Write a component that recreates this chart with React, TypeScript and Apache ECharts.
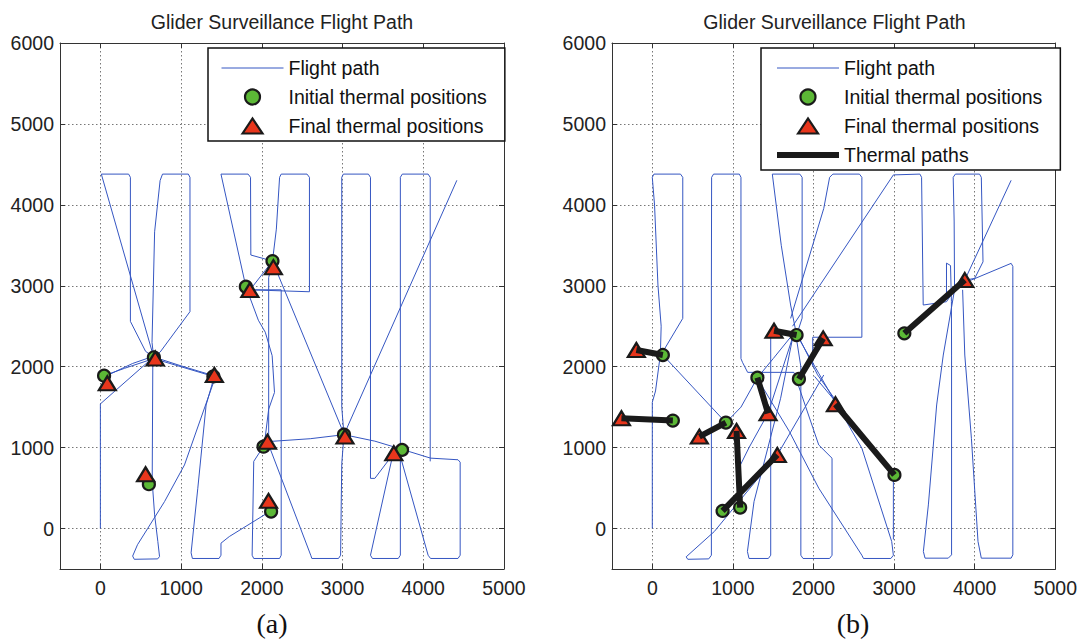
import React, { useEffect, useRef } from 'react';
import * as echarts from 'echarts';

type P = [number, number] | null;

// ---------- data ----------
const axisXTicks = [0, 1000, 2000, 3000, 4000, 5000];
const axisYTicks = [0, 1000, 2000, 3000, 4000, 5000, 6000];

const initialA: [number, number][] = [
  [46, 1889], [663, 2116], [1400, 1880], [601, 548], [1802, 2988],
  [2132, 3305], [2021, 1012], [2115, 210], [3018, 1160], [3737, 972],
];
const finalA: [number, number][] = [
  [86, 1795], [680, 2100], [1412, 1898], [560, 671], [1852, 2947],
  [2143, 3230], [2070, 1074], [2083, 342], [3030, 1136], [3635, 931],
];

const initialB: [number, number][] = [
  [131, 2144], [1790, 2391], [3127, 2412], [255, 1334], [913, 1309],
  [1304, 1864], [1819, 1848], [872, 218], [1090, 259], [3004, 663],
];
const finalB: [number, number][] = [
  [-198, 2206], [1510, 2445], [3877, 3070], [-383, 1363], [584, 1136],
  [1436, 1424], [2120, 2350], [1551, 910], [1045, 1206], [2272, 1536],
];

const flightPathA: P[] = [
  [0, 0], [0, 1540], [170, 1690], [660, 2120], [1000, 2010], [1400, 1890],
  null,
  [1400, 1880], [660, 2100], [300, 1980], [46, 1890],
  null,
  [60, 1880], [400, 2040], [660, 2130],
  null,
  [660, 2120], [12, 4380], [350, 4380], [372, 4340], [372, 2560], [560, 2190], [660, 2120],
  null,
  [660, 2120], [640, 2300], [672, 3667], [740, 4300], [770, 4380], [1090, 4380], [1110, 4340], [1110, 2680], [740, 2180], [660, 2120],
  null,
  [650, 2110], [642, 580], [672, 169], [712, -160], [733, -346], [710, -375], [420, -380], [400, -340], [460, -200], [589, 5], [795, 333], [1042, 786], [1412, 1836],
  null,
  [1412, 1880], [1310, 1527], [1207, 498], [1124, -300], [1140, -370], [1470, -370], [1494, -330], [1494, -181], [1597, -99], [2050, 180], [2115, 210],
  null,
  [1494, 4380], [1802, 2990], [1957, 2574], [2043, 2426], [2128, 2136], [2157, 1682], [2085, 1475], [2030, 1030], [1900, 830], [1880, -330], [1900, -370], [2220, -370], [2240, -330], [2240, 2950], [1850, 2950],
  null,
  [1850, 2950], [2590, 2926], [2590, 4340], [2560, 4380], [2240, 4380], [2220, 4340], [2180, 3700], [2132, 3305], [2085, 3100], [2085, 1100], [2070, 1074],
  null,
  [1852, 2947], [2132, 3305],
  null,
  [1494, 4380], [1830, 4380], [1860, 4340], [1864, 3380], [2132, 3305], [3030, 1140],
  null,
  [2070, 1074], [2600, 1110], [3018, 1160], [3400, 1080], [3700, 990], [4090, 870], [4430, 850], [4457, 820], [4457, -330], [4430, -370], [4090, -370], [4060, -330], [3700, 950],
  null,
  [3620, 900], [3346, -330], [3370, -370], [3690, -370], [3716, -330], [3716, 4340], [3740, 4380], [4060, 4380], [4086, 4340], [4086, 830],
  null,
  [3018, 1160], [2990, 1500], [2990, 4340], [3010, 4380], [3320, 4380], [3346, 4340], [3346, 620], [3400, 620], [3635, 930],
  null,
  [3018, 1160], [2990, 800], [2976, -330], [2950, -370], [2620, -370], [2606, -330], [2070, 1074],
  null,
  [3018, 1160], [4416, 4303],
];

const flightPathB: P[] = [
  [0, 0], [0, 1560], [40, 1700], [100, 2150], [110, 2500], [70, 3009], [28, 3996], [0, 4340], [20, 4380], [350, 4380], [378, 4340], [378, 2597], [131, 2185],
  null,
  [131, 2144], [500, 1750], [913, 1309],
  null,
  [1757, 1930], [1183, 1930], [1119, 2054], [1100, 2100], [1100, 4340], [1080, 4380], [760, 4380], [736, 4340], [733, 3000], [733, -330], [700, -375], [440, -380], [420, -350], [769, -37], [1551, 909], [2127, 1897],
  null,
  [1790, 2391], [1716, 2762], [1600, 3500], [1489, 4380], [1830, 4380], [1859, 4340], [1859, 2600], [1800, 2420],
  null,
  [1716, 2597], [2127, 3955], [2200, 4340], [2240, 4380], [2570, 4380], [2600, 4340], [2600, 2364], [1990, 2364], [1990, 2012],
  null,
  [1740, 2500], [2991, 4370], [3320, 4380], [3341, 4340], [3361, 2762], [3650, 2803], [3750, 2950],
  null,
  [3750, 2950], [3745, 3800], [3733, 4340], [3760, 4380], [4060, 4380], [4082, 4340], [4103, 3296], [4000, 3091], [3877, 3070],
  null,
  [3877, 3070], [3958, 3071], [4452, 3277], [4473, 3240], [4473, -325], [4452, -366], [4082, -366], [4041, -160], [3959, 1115], [3877, 2144], [3850, 2950],
  null,
  [3750, 2950], [3610, 2144], [3528, 1527], [3425, 292], [3363, -284], [3384, -366], [3672, -366], [3713, -325], [3713, 2144], [3711, 2803], [3700, 3250], [3650, 3280], [3650, 2900],
  null,
  [3877, 3070], [4452, 4303],
  null,
  [3127, 2412], [3500, 2750], [3877, 3070],
  null,
  [1300, 1860], [1700, 1200], [2065, 499], [2600, -330], [2620, -370], [2960, -370], [2991, -330], [2970, -160], [2600, 992], [2065, 1918], [1800, 2380],
  null,
  [2013, 1880], [2500, 1300], [2991, 690], [2991, -136],
  null,
  [1757, 1930], [2065, 1033], [2230, 869], [2230, -330], [2200, -370], [1870, -370], [1843, -330], [1843, 2000], [1780, 2400],
  null,
  [1750, 2400], [1592, 1610], [1262, 333], [1180, -284], [1200, -370], [1440, -370], [1469, -330], [1469, 2450],
  null,
  [913, 1309], [1100, 1500], [1304, 1864], [1500, 2100], [1760, 2420],
  null,
  [1760, 2420], [1436, 1424], [1200, 1000], [1050, 700],
  null,
  [1800, 2400], [2050, 1900], [2300, 1550], [2600, 1100],
];

const chartTitle = 'Glider Surveillance Flight Path';
const nameFlight = 'Flight path';
const nameInitial = 'Initial thermal positions';
const nameFinal = 'Final thermal positions';
const nameThermal = 'Thermal paths';

// ---------- styling ----------
const FONT = "'Liberation Sans', Arial, Helvetica, sans-serif";
const SERIF = "'Liberation Serif', 'Times New Roman', serif";
const PATH_BLUE = '#3556c2';
const GREEN = '#5cb836';
const RED = '#e8361c';
const DARK = '#1a1a1a';
const TRIANGLE_ICON = 'path://M0,15L10,0L20,15Z';

const toLine = (pts: P[]) => pts.map((p) => (p ? p : ['-', '-']));

function axes(gridIndex: number) {
  const common = {
    type: 'value',
    gridIndex,
    min: -500,
    minInterval: 1000,
    maxInterval: 1000,
  };
  const lineStyle = { color: '#333', width: 1 };
  const tick = { show: true, inside: true, length: 5, lineStyle: { color: '#333' } };
  const label = {
    fontSize: 19.5,
    color: '#222',
    fontFamily: FONT,
    formatter: (v: number) => (v < 0 ? '' : String(v)),
  };
  const split = { show: true, lineStyle: { color: '#777', type: [1.5, 2.5], width: 1 } };
  return {
    x: [
      { ...common, max: axisXTicks[axisXTicks.length - 1], position: 'bottom', axisLine: { show: true, onZero: false, lineStyle }, axisTick: tick, axisLabel: { ...label, margin: 9 }, splitLine: split },
      { ...common, max: axisXTicks[axisXTicks.length - 1], position: 'top', axisLine: { show: true, onZero: false, lineStyle }, axisTick: tick, axisLabel: { show: false }, splitLine: { show: false } },
    ],
    y: [
      { ...common, max: axisYTicks[axisYTicks.length - 1], position: 'left', axisLine: { show: true, onZero: false, lineStyle }, axisTick: tick, axisLabel: { ...label, margin: 6 }, splitLine: split },
      { ...common, max: axisYTicks[axisYTicks.length - 1], position: 'right', axisLine: { show: true, onZero: false, lineStyle }, axisTick: tick, axisLabel: { show: false }, splitLine: { show: false } },
    ],
  };
}

function thermalLines(init: [number, number][], fin: [number, number][]) {
  const out: P[] = [];
  init.forEach((p, i) => {
    out.push(p, fin[i], null);
  });
  return out;
}

export default function App() {
  const ref = useRef<HTMLDivElement>(null);

  useEffect(() => {
    if (!ref.current) return;
    const chart = echarts.init(ref.current, undefined, { renderer: 'svg' });
    const a = axes(0);
    const b = axes(1);

    const flightSeries = (data: P[], xi: number, yi: number) => ({
      name: nameFlight,
      type: 'line',
      xAxisIndex: xi,
      yAxisIndex: yi,
      data: toLine(data),
      symbol: 'none',
      connectNulls: false,
      lineStyle: { color: PATH_BLUE, width: 1 },
      itemStyle: { color: PATH_BLUE },
      z: 2,
      silent: true,
    });
    const initSeries = (data: [number, number][], xi: number, yi: number) => ({
      name: nameInitial,
      type: 'scatter',
      xAxisIndex: xi,
      yAxisIndex: yi,
      data,
      symbol: 'circle',
      symbolSize: 12,
      itemStyle: { color: GREEN, borderColor: DARK, borderWidth: 2.2, opacity: 1 },
      z: 3,
    });
    const finalSeries = (data: [number, number][], xi: number, yi: number) => ({
      name: nameFinal,
      type: 'scatter',
      xAxisIndex: xi,
      yAxisIndex: yi,
      data,
      symbol: 'triangle',
      symbolSize: [17, 14],
      itemStyle: { color: RED, borderColor: DARK, borderWidth: 2.2, opacity: 1 },
      z: 4,
    });

    const legendBase = {
      orient: 'vertical',
      top: 48,
      itemWidth: 62,
      itemHeight: 15,
      itemGap: 9,
      padding: [10, 18, 5, 13],
      backgroundColor: '#fff',
      borderColor: '#111',
      borderWidth: 1.5,
      borderRadius: 0,
      selectedMode: false,
      symbolKeepAspect: true,
      textStyle: { fontSize: 19.5, color: '#111', fontFamily: FONT, lineHeight: 20 },
      lineStyle: { width: 'inherit' },
      itemStyle: { borderWidth: 'inherit' },
      z: 10,
    };
    const legendItems = [
      { name: nameFlight, itemStyle: { opacity: 0 } },
      { name: nameInitial },
      { name: nameFinal, icon: TRIANGLE_ICON },
    ];

    chart.setOption({
      animation: false,
      backgroundColor: '#fff',
      grid: [
        { left: 60, top: 43, width: 444, height: 526, containLabel: false },
        { left: 612, top: 43, width: 445, height: 526, containLabel: false },
      ],
      xAxis: [...a.x, ...b.x],
      yAxis: [...a.y, ...b.y],
      legend: [
        { ...legendBase, left: 208, data: legendItems },
        { ...legendBase, left: 761, data: [...legendItems, { name: nameThermal, itemStyle: { opacity: 0 } }] },
      ],
      graphic: [
        { type: 'text', x: 282, y: 22, style: { text: chartTitle, font: `19.5px ${FONT}`, fill: '#222', align: 'center', verticalAlign: 'middle' } },
        { type: 'text', x: 834.5, y: 22, style: { text: chartTitle, font: `19.5px ${FONT}`, fill: '#222', align: 'center', verticalAlign: 'middle' } },
        { type: 'text', x: 272, y: 623, style: { text: '(a)', font: `28px ${SERIF}`, fill: '#111', align: 'center', verticalAlign: 'middle' } },
        { type: 'text', x: 853, y: 623, style: { text: '(b)', font: `28px ${SERIF}`, fill: '#111', align: 'center', verticalAlign: 'middle' } },
      ],
      series: [
        flightSeries(flightPathA, 0, 0),
        initSeries(initialA, 0, 0),
        finalSeries(finalA, 0, 0),
        flightSeries(flightPathB, 2, 2),
        initSeries(initialB, 2, 2),
        finalSeries(finalB, 2, 2),
        {
          name: nameThermal,
          type: 'line',
          xAxisIndex: 2,
          yAxisIndex: 2,
          data: toLine(thermalLines(initialB, finalB)),
          symbol: 'none',
          connectNulls: false,
          lineStyle: { color: DARK, width: 6 },
          itemStyle: { color: DARK },
          z: 5,
        },
      ],
    });
    return () => chart.dispose();
  }, []);

  return (
    <div
      ref={ref}
      style={{ position: 'fixed', left: 0, top: 0, width: 1080, height: 641, background: '#fff' }}
    />
  );
}
